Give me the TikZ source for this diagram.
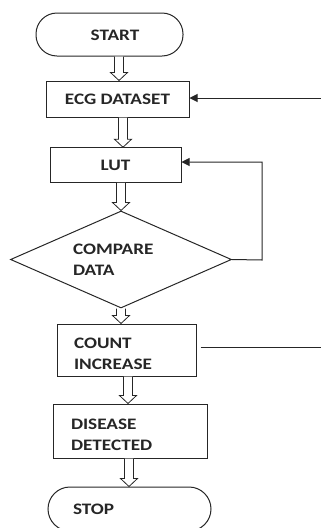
\documentclass[tikz,border=0pt]{standalone}
\usepackage{fontspec}
\setmainfont{Carlito}[FakeStretch=1.2]
\usetikzlibrary{shapes.geometric,arrows.meta,calc}
\newcommand\harrow[3]{%
  \draw[hol] let \p1=(#2.south), \p2=(#3.north) in
  ({#1pt-4.5pt},\y1) -- ({#1pt-4.5pt},\y2+8pt) -- ({#1pt-8.5pt},\y2+8pt) -- (#1pt,\y2)
  -- ({#1pt+8.5pt},\y2+8pt) -- ({#1pt+4.5pt},\y2+8pt) -- ({#1pt+4.5pt},\y1);}
\begin{document}
\begin{tikzpicture}[x=1pt,y=-1pt,
  every node/.style={font=\fontsize{16}{21}\selectfont\bfseries, text=black!85},
  box/.style={draw=black!85, line width=1pt, rectangle, inner sep=0pt},
  term/.style={draw=black!85, line width=1pt, rectangle, rounded corners=21pt, inner sep=0pt},
  dec/.style={draw=black!85, line width=1pt, diamond, aspect=2.28, inner sep=0pt},
  hol/.style={draw=black!85, line width=0.8pt, fill=white, line join=miter},
  con/.style={draw=black!85, line width=1pt},
  tip/.style={-{Triangle[length=8pt,width=8pt]}}]
\useasboundingbox (0,0) rectangle (321,528);
% shapes
\node[term, minimum width=147pt, minimum height=43pt] (start) at (109.5,34.5) {};
\node (startt) at (115,35) {START};
\node[box, minimum width=143pt, minimum height=36pt] (ecg) at (117.5,99) {ECG DATASET};
\node[box, minimum width=131pt, minimum height=34.5pt] (lut) at (115.5,165) {LUT};
\node[dec, minimum width=221pt, minimum height=97pt, text width=96pt, align=left] (cmp) at (121,259.5) {COMPARE\\DATA};
\node[box, minimum width=139pt, minimum height=52pt, inner xsep=17pt, text width=105pt, align=left] (cnt) at (126.5,350) {\raisebox{-4pt}[\height][\depth]{\parbox{105pt}{COUNT\\INCREASE}}};
\node[box, minimum width=154pt, minimum height=54pt, inner xsep=18pt, text width=118pt, align=left] (dis) at (130,431) {\raisebox{-4pt}[\height][\depth]{\parbox{118pt}{DISEASE\\DETECTED}}};
\node[term, minimum width=163pt, minimum height=44pt, inner xsep=25pt, text width=113pt, align=left, rounded corners=22pt] (stop) at (129.5,509) {STOP};
% hollow arrows
\harrow{119}{start}{ecg}
\harrow{123}{ecg}{lut}
\harrow{121}{lut}{cmp}
\harrow{121}{cmp}{cnt}
\harrow{128}{cnt}{dis}
\harrow{129}{dis}{stop}
% connectors
\coordinate (ecgin) at (321,98);
\coordinate (loopc) at (262,260);
\coordinate (cntout) at (321,347);
\draw[con,tip] (ecgin) -- (ecg.east |- ecgin);
\draw[con,tip] (cmp.east) -- (loopc) |- ([yshift=3pt]lut.east);
\draw[con] ([xshift=4pt,yshift=3pt]cnt.east) -- (cntout);
\end{tikzpicture}
\end{document}
